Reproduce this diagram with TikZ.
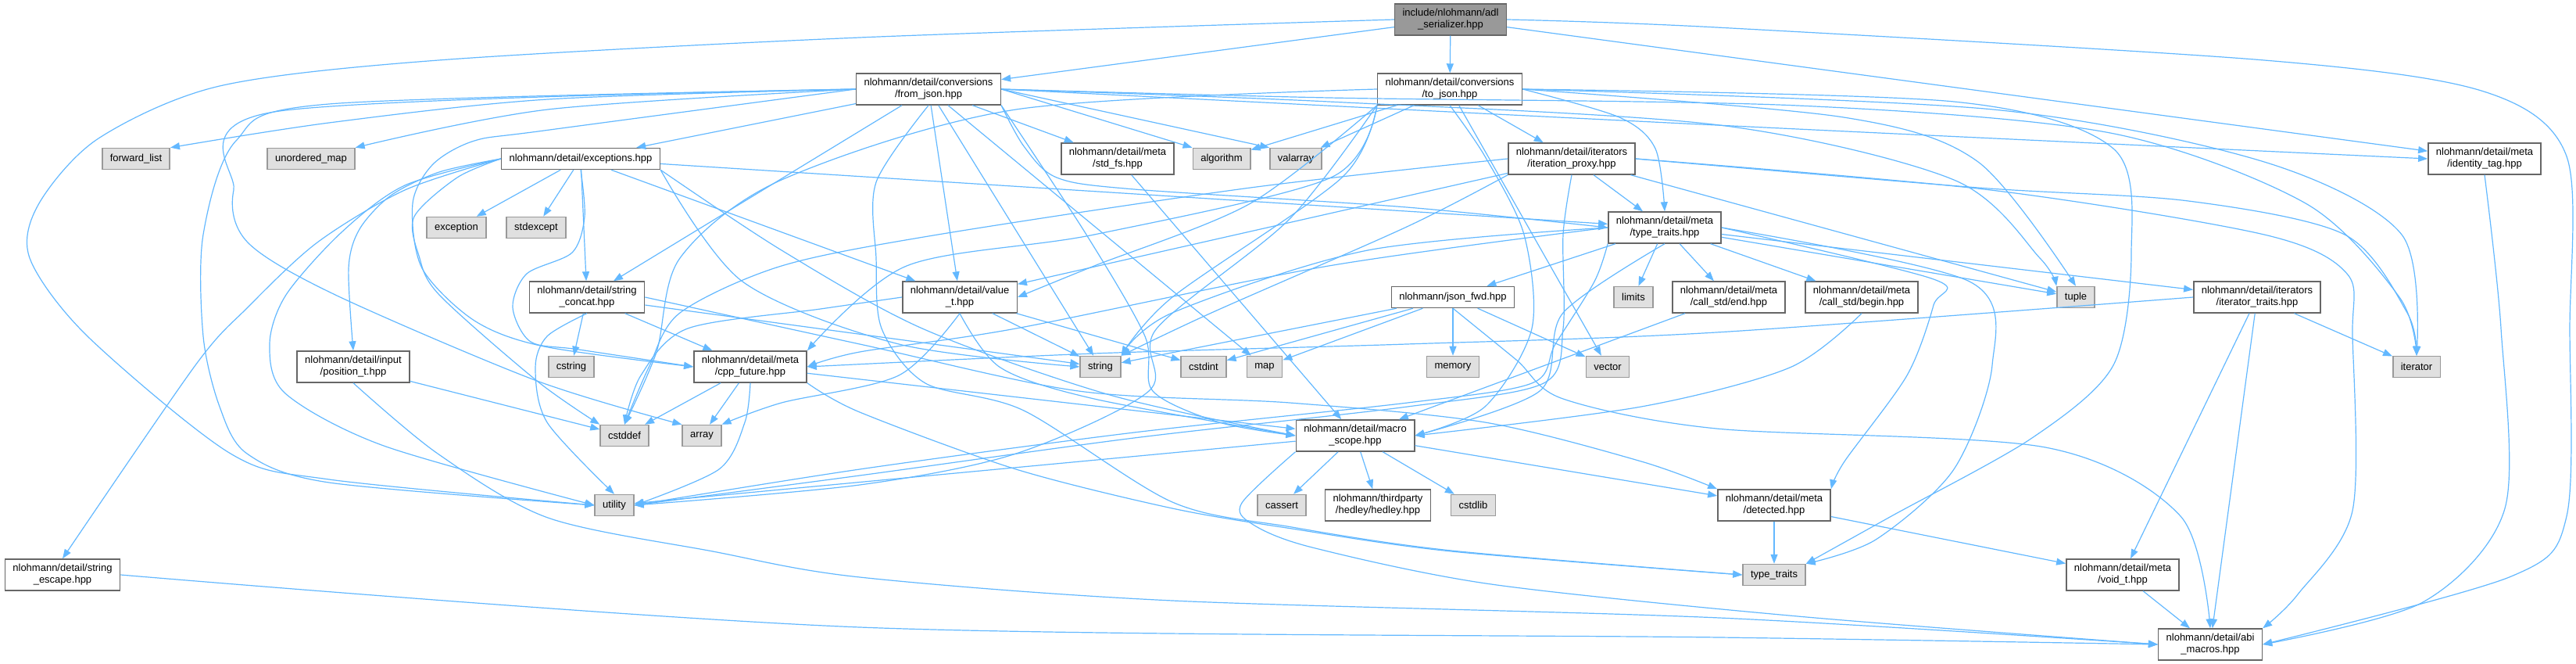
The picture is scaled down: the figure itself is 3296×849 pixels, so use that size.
\documentclass[tikz,border=0pt]{standalone}
\usepackage{fontspec}
\setmainfont{Liberation Sans}
\usetikzlibrary{arrows.meta}
\definecolor{depblue}{HTML}{63B8FF}
\definecolor{sysfill}{HTML}{E0E0E0}
\definecolor{sysline}{HTML}{999999}
\definecolor{boxline}{HTML}{666666}
\definecolor{headfill}{HTML}{999999}

\begin{document}
\begin{tikzpicture}[
  x=0.5pt, y=0.5pt,
  box/.style={rectangle, draw=boxline, fill=white, line width=0.75pt,
              align=center, inner xsep=5pt, inner ysep=3.2pt,
              minimum height=13.5pt, font=\fontsize{6.5}{7.5}\selectfont},
  sysbox/.style={box, draw=sysline, fill=sysfill},
  head/.style={box, fill=headfill},
  arrow/.style={-{Triangle[length=6pt,width=4.5pt]}, depblue, line width=0.6pt}
]
\useasboundingbox (0,0) rectangle (3296,-849);

% row 0 and 1
\node[head] (adl) at (1856,-25) {include/nlohmann/adl\\\_serializer.hpp};
\node[box] (fj) at (1188,-114) {nlohmann/detail/conversions\\/from\_json.hpp};
\node[box] (tj) at (1855,-114) {nlohmann/detail/conversions\\/to\_json.hpp};

% row 2
\node[sysbox] (fwdlist) at (174,-203) {forward\_list};
\node[sysbox] (umap) at (398,-203) {unordered\_map};
\node[box] (exc) at (743,-203) {nlohmann/detail/exceptions.hpp};
\node[box] (stdfs) at (1430,-203) {nlohmann/detail/meta\\/std\_fs.hpp};
\node[sysbox] (algorithm) at (1563,-203) {algorithm};
\node[sysbox] (valarray) at (1658,-203) {valarray};
\node[box] (iterproxy) at (2011,-203) {nlohmann/detail/iterators\\/iteration\_proxy.hpp};
\node[box] (identity) at (3179,-203) {nlohmann/detail/meta\\/identity\_tag.hpp};

% row 3
\node[sysbox] (exception) at (584,-291) {exception};
\node[sysbox] (stdexcept) at (686,-291) {stdexcept};
\node[box] (metatt) at (2130,-291) {nlohmann/detail/meta\\/type\_traits.hpp};

% row 4
\node[box] (strconcat) at (751,-380) {nlohmann/detail/string\\\_concat.hpp};
\node[box] (valuet) at (1228,-380) {nlohmann/detail/value\\\_t.hpp};
\node[box] (jsonfwd) at (1859,-380) {nlohmann/json\_fwd.hpp};
\node[sysbox] (limits) at (2090,-380) {limits};
\node[box] (callend) at (2212,-380) {nlohmann/detail/meta\\/call\_std/end.hpp};
\node[box] (callbegin) at (2382,-380) {nlohmann/detail/meta\\/call\_std/begin.hpp};
\node[sysbox] (tuple) at (2656,-380) {tuple};
\node[box] (itertraits) at (2888,-380) {nlohmann/detail/iterators\\/iterator\_traits.hpp};

% row 5
\node[box] (post) at (452,-469) {nlohmann/detail/input\\/position\_t.hpp};
\node[sysbox] (cstring) at (731,-469) {cstring};
\node[box] (cppfut) at (960,-469) {nlohmann/detail/meta\\/cpp\_future.hpp};
\node[sysbox] (string) at (1408,-469) {string};
\node[sysbox] (cstdint) at (1540,-469) {cstdint};
\node[sysbox] (map) at (1618,-469) {map};
\node[sysbox] (memory) at (1859,-469) {memory};
\node[sysbox] (vector) at (2057,-469) {vector};
\node[sysbox] (iterator) at (3092,-469) {iterator};

% row 6
\node[sysbox] (cstddef) at (799,-557) {cstddef};
\node[sysbox] (array) at (898,-557) {array};
\node[box] (macro) at (1734,-557) {nlohmann/detail/macro\\\_scope.hpp};

% row 7
\node[sysbox] (utility) at (786,-646) {utility};
\node[sysbox] (cassert) at (1640,-646) {cassert};
\node[box] (hedley) at (1763,-646) {nlohmann/thirdparty\\/hedley/hedley.hpp};
\node[sysbox] (cstdlib) at (1885,-646) {cstdlib};
\node[box] (detected) at (2270,-646) {nlohmann/detail/meta\\/detected.hpp};

% row 8 and 9
\node[box] (strescape) at (80,-735) {nlohmann/detail/string\\\_escape.hpp};
\node[sysbox] (stdtt) at (2270,-735) {type\_traits};
\node[box] (voidt) at (2716,-735) {nlohmann/detail/meta\\/void\_t.hpp};
\node[box] (abi) at (2828,-824) {nlohmann/detail/abi\\\_macros.hpp};

% short includes
\foreach \a/\b in {adl/fj, adl/tj, adl/identity,
                   fj/exc, fj/strconcat, fj/stdfs, fj/valuet, fj/string, fj/map,
                   tj/algorithm, tj/valarray, tj/iterproxy, tj/vector,
                   exc/exception, exc/stdexcept, exc/strconcat, exc/metatt, exc/valuet,
                   strconcat/cstring, strconcat/cppfut, strconcat/string,
                   valuet/cstdint, valuet/string, post/cstddef, stdfs/macro,
                   iterproxy/metatt, iterproxy/valuet, iterproxy/tuple,
                   metatt/jsonfwd, metatt/limits, metatt/callend, metatt/callbegin,
                   metatt/tuple, metatt/itertraits,
                   jsonfwd/cstdint, jsonfwd/map, jsonfwd/memory, jsonfwd/string, jsonfwd/vector,
                   callend/macro, itertraits/iterator, itertraits/voidt, itertraits/abi,
                   cppfut/array, cppfut/cstddef, cppfut/macro,
                   macro/utility, macro/cassert, macro/hedley, macro/cstdlib, macro/detected,
                   detected/stdtt, detected/voidt, voidt/abi}
  \draw[arrow] (\a) -- (\b);

% adl_serializer.hpp
\draw[arrow] plot[smooth] coordinates {(adl.west) (1100,-48) (561,-77) (281,-110)
  (126,-177) (50,-260) (38,-330) (112,-430) (295,-580) (421,-613) (utility.west)};
\draw[arrow] plot[smooth] coordinates {(adl.east) (2196,-35) (2897,-77) (3178,-117)
  (3284,-200) (3288,-420) (3284,-660) (3213,-737) (abi.east)};

% from_json.hpp
\draw[arrow] plot[smooth] coordinates {(fj.west) (701,-127) (421,-157) (fwdlist.north east)};
\draw[arrow] plot[smooth] coordinates {(fj.west) (701,-140) (umap.north east)};
\draw[arrow] (fj.east) -- (algorithm.north west);
\draw[arrow] (fj.east) -- (valarray.north west);
\draw[arrow] plot[smooth] coordinates {(fj.east) (2196,-160) (identity.west)};
\draw[arrow] plot[smooth] coordinates {(fj.west) (421,-133) (302,-180) (260,-300)
  (260,-430) (281,-520) (316,-580) (421,-617) (utility.west)};
\draw[arrow] plot[smooth] coordinates {(fj.west) (351,-143) (299,-243) (317,-310)
  (429,-377) (687,-487) (array.north west)};
\draw[arrow] plot[smooth] coordinates {(fj.west) (696,-167) (607,-180) (554,-210)
  (528,-260) (540,-343) (607,-410) (696,-443) (cppfut.west)};
\draw[arrow] plot[smooth] coordinates {(fj.south east) (1310,-187) (1352,-227)
  (1451,-242) (1800,-265) (metatt.west)};
\draw[arrow] plot[smooth] coordinates {(fj.east) (1700,-130) (2200,-160) (2500,-230)
  (2610,-330) (tuple.north west)};
\draw[arrow] plot[smooth] coordinates {(fj.east) (1700,-125) (2300,-135) (2700,-170)
  (2950,-260) (3070,-380) (iterator.north)};
\draw[arrow] plot[smooth] coordinates {(fj.south) (1121,-233) (1121,-330) (1128,-420)
  (1184,-490) (1310,-525) (1500,-642) (1653,-674) (1857,-704) (stdtt.west)};
\draw[arrow] plot[smooth] coordinates {(fj.south east) (1390,-300) (1465,-430)
  (1475,-500) (1560,-540) (macro.west)};

% to_json.hpp
\draw[arrow] plot[smooth] coordinates {(tj.east) (2072,-150) (2118,-190) (metatt.north)};
\draw[arrow] plot[smooth] coordinates {(tj.east) (2359,-150) (2531,-207) (tuple.north)};
\draw[arrow] plot[smooth] coordinates {(tj.east) (2550,-140) (2897,-207) (3073,-300)
  (iterator.north)};
\draw[arrow] plot[smooth] coordinates {(tj.east) (2500,-130) (2704,-190) (2727,-323)
  (2704,-467) (2600,-560) (2420,-660) (stdtt.north east)};
\draw[arrow] plot[smooth] coordinates {(tj.south west) (1717,-227) (1500,-380)
  (string.north east)};
\draw[arrow] plot[smooth] coordinates {(tj.south west) (1600,-260) (1400,-340)
  (valuet.east)};
\draw[arrow] plot[smooth] coordinates {(tj.south west) (1703,-227) (1400,-300)
  (1160,-340) (cppfut.north east)};
\draw[arrow] plot[smooth] coordinates {(tj.south west) (1650,-280) (1480,-420)
  (1470,-500) (1300,-580) (1100,-620) (utility.east)};
\draw[arrow] plot[smooth] coordinates {(tj.west) (1300,-140) (1000,-230) (870,-330)
  (840,-450) (cstddef.north)};
\draw[arrow] plot[smooth] coordinates {(tj.south) (1900,-200) (1950,-300) (1960,-420)
  (1900,-520) (macro.east)};

% exceptions.hpp
\draw[arrow] plot[smooth] coordinates {(exc.west) (562,-220) (500,-250) (460,-293)
  (446,-343) (post.north)};
\draw[arrow] plot[smooth] coordinates {(exc.west) (518,-243) (406,-310) (317,-393)
  (250,-467) (strescape.north)};
\draw[arrow] plot[smooth] coordinates {(exc.west) (518,-237) (437,-297) (366,-377)
  (345,-440) (365,-503) (491,-570) (utility.west)};
\draw[arrow] plot[smooth] coordinates {(exc.west) (585,-227) (530,-277) (536,-327)
  (562,-377) (687,-487) (cstddef.north west)};
\draw[arrow] plot[smooth] coordinates {(exc.south) (748,-277) (732,-323) (674,-350)
  (656,-393) (679,-437) (741,-447) (cppfut.west)};
\draw[arrow] plot[smooth] coordinates {(exc.south east) (950,-360) (1150,-440)
  (string.west)};
\draw[arrow] plot[smooth] coordinates {(exc.south east) (1000,-320) (1180,-420)
  (1420,-505) (macro.west)};

% string_concat.hpp, value_t.hpp
\draw[arrow] plot[smooth] coordinates {(strconcat.south) (700,-430) (685,-470)
  (700,-540) (utility.north)};
\draw[arrow] plot[smooth] coordinates {(strconcat.east) (1100,-440) (1380,-500)
  (1650,-515) (1900,-540) (2100,-590) (detected.north west)};
\draw[arrow] plot[smooth] coordinates {(valuet.west) (1050,-395) (880,-420) (820,-480)
  (cstddef.north)};
\draw[arrow] plot[smooth] coordinates {(valuet.south) (1150,-480) (1000,-515)
  (array.north east)};
\draw[arrow] plot[smooth] coordinates {(valuet.south) (1280,-470) (1400,-510)
  (macro.west)};

% headers down to abi_macros.hpp
\draw[arrow] plot[smooth] coordinates {(post.south) (560,-580) (701,-662) (912,-705)
  (1100,-738) (1500,-768) (2200,-790) (abi.west)};
\draw[arrow] plot[smooth] coordinates {(strescape.east) (1100,-802) (2200,-815)
  (abi.west)};
\draw[arrow] plot[smooth] coordinates {(identity.south) (3200,-420) (3205,-650)
  (3100,-770) (abi.east)};
\draw[arrow] plot[smooth] coordinates {(jsonfwd.south) (1940,-460) (2000,-510)
  (2196,-548) (2617,-572) (2790,-660) (abi.north)};

% iteration_proxy.hpp
\draw[arrow] plot[smooth] coordinates {(iterproxy.east) (2531,-240) (2800,-257)
  (3000,-300) (3080,-400) (iterator.north)};
\draw[arrow] plot[smooth] coordinates {(iterproxy.south west) (1800,-290) (1550,-400)
  (string.north east)};
\draw[arrow] plot[smooth] coordinates {(iterproxy.west) (1600,-240) (1200,-300)
  (1000,-340) (870,-400) (830,-470) (cstddef.north)};
\draw[arrow] plot[smooth] coordinates {(iterproxy.south) (2000,-300) (2000,-420)
  (1975,-490) (1801,-520) (1451,-560) (1100,-608) (utility.east)};
\draw[arrow] plot[smooth] coordinates {(iterproxy.east) (2547,-243) (2897,-300)
  (3003,-350) (3010,-430) (3010,-653) (2940,-760) (abi.north east)};

% meta/type_traits.hpp
\draw[arrow] plot[smooth] coordinates {(metatt.east) (2474,-357) (2474,-390)
  (2440,-480) (2360,-590) (detected.north east)};
\draw[arrow] plot[smooth] coordinates {(metatt.east) (2520,-360) (2549,-467)
  (2500,-600) (2400,-690) (stdtt.north east)};
\draw[arrow] plot[smooth] coordinates {(metatt.west) (1700,-340) (1300,-420)
  (1100,-450) (cppfut.east)};
\draw[arrow] plot[smooth] coordinates {(metatt.west) (1750,-320) (1500,-400)
  (string.north east)};
\draw[arrow] plot[smooth] coordinates {(metatt.south west) (2040,-360) (1990,-440)
  (1960,-490) (1801,-515) (1451,-553) (1100,-600) (utility.east)};
\draw[arrow] plot[smooth] coordinates {(metatt.south) (2000,-400) (1970,-500)
  (macro.east)};
\draw[arrow] plot[smooth] coordinates {(callbegin.south) (2290,-470) (2100,-520)
  (macro.east)};
\draw[arrow] plot[smooth] coordinates {(itertraits.west) (2196,-425) (1800,-440)
  (1400,-452) (cppfut.east)};

% cpp_future.hpp, macro_scope.hpp
\draw[arrow] plot[smooth] coordinates {(cppfut.south) (953,-540) (920,-600)
  (utility.east)};
\draw[arrow] plot[smooth] coordinates {(cppfut.south east) (1100,-527) (1300,-600)
  (1500,-650) (1653,-676) (1857,-705) (stdtt.west)};
\draw[arrow] plot[smooth] coordinates {(macro.south west) (1589,-643) (1602,-670)
  (1679,-700) (1908,-747) (2300,-788) (abi.west)};
\end{tikzpicture}
\end{document}
